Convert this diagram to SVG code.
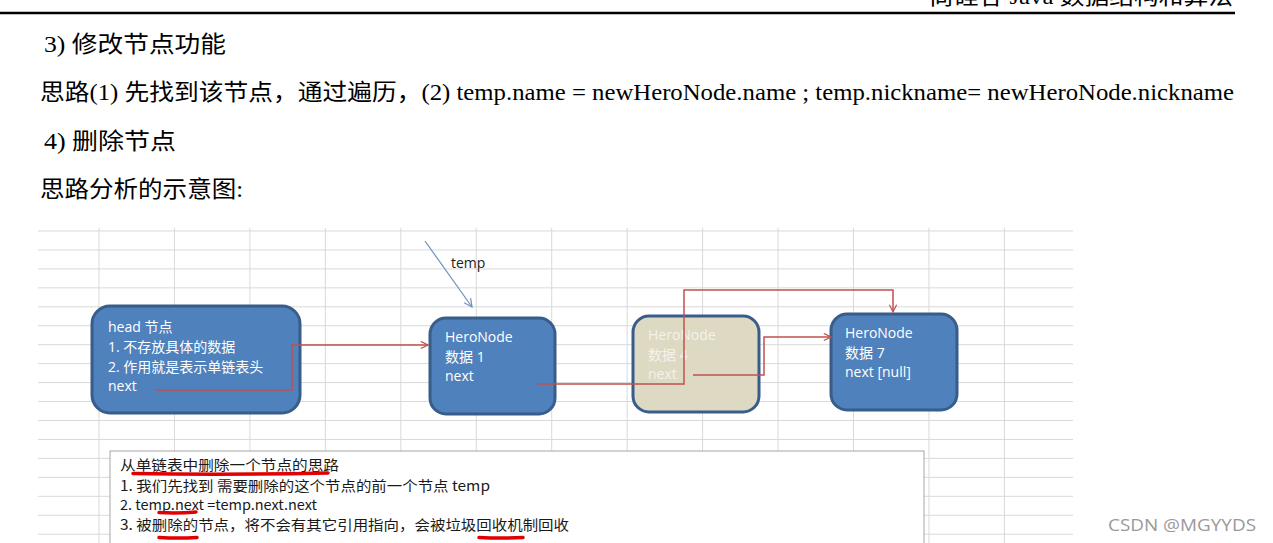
<svg xmlns="http://www.w3.org/2000/svg" width="1273" height="543" viewBox="0 0 1273 543">
<style>
.doc{font-family:"Liberation Serif","Noto Sans CJK SC",serif;fill:#000}
.grid line{stroke:#D9D9D9;stroke-width:1}
.node rect{stroke:#385D8A;stroke-width:3}
.blue{fill:#4F81BD}
.beige{fill:#DDD9C3}
.nt{font-family:"Open Sans","Noto Sans CJK SC",sans-serif;font-size:14px;fill:#FFFFFF}
.nt4{font-family:"Open Sans","Noto Sans CJK SC",sans-serif;font-size:14px;fill:#F4F2EA}
.red{fill:none;stroke:#C0504D;stroke-width:1.5}
.bt{font-family:"Noto Sans CJK SC",sans-serif;font-size:14px;fill:#1A1A1A}
.ul{stroke:#E00000;stroke-width:3.5;stroke-linecap:round;fill:none}
</style>
<defs>
<marker id="ar" viewBox="0 0 10 10" refX="9" refY="5" markerWidth="9" markerHeight="9" markerUnits="userSpaceOnUse" orient="auto">
<path d="M1,1 L9,5 L1,9" fill="none" stroke="#C0504D" stroke-width="1.3"/>
</marker>
<marker id="ab" viewBox="0 0 10 10" refX="9" refY="5" markerWidth="10" markerHeight="10" markerUnits="userSpaceOnUse" orient="auto">
<path d="M1,1 L9,5 L1,9" fill="none" stroke="#6F8FC0" stroke-width="1.2"/>
</marker>
</defs>
<rect width="1273" height="543" fill="#FFFFFF"/>
<text class="doc" x="1233" y="4" font-size="22" text-anchor="end" textLength="304" lengthAdjust="spacingAndGlyphs">尚硅谷 Java 数据结构和算法</text>
<line x1="0" y1="13" x2="1235" y2="13" stroke="#000" stroke-width="2.5"/>
<text class="doc" x="44" y="52" font-size="23" textLength="182" lengthAdjust="spacingAndGlyphs">3)  修改节点功能</text>
<text class="doc" x="40" y="100" font-size="23" textLength="1194" lengthAdjust="spacingAndGlyphs">思路(1)  先找到该节点，通过遍历，(2) temp.name = newHeroNode.name ; temp.nickname= newHeroNode.nickname</text>
<text class="doc" x="44" y="149" font-size="23" textLength="132" lengthAdjust="spacingAndGlyphs">4)  删除节点</text>
<text class="doc" x="40" y="197" font-size="23" textLength="203" lengthAdjust="spacingAndGlyphs">思路分析的示意图:</text>
<g class="grid">
<line x1="38" y1="231" x2="1073" y2="231"/><line x1="38" y1="249.95" x2="1073" y2="249.95"/><line x1="38" y1="268.9" x2="1073" y2="268.9"/><line x1="38" y1="287.85" x2="1073" y2="287.85"/><line x1="38" y1="306.8" x2="1073" y2="306.8"/><line x1="38" y1="325.75" x2="1073" y2="325.75"/><line x1="38" y1="344.7" x2="1073" y2="344.7"/><line x1="38" y1="363.65" x2="1073" y2="363.65"/><line x1="38" y1="382.6" x2="1073" y2="382.6"/><line x1="38" y1="401.55" x2="1073" y2="401.55"/><line x1="38" y1="420.5" x2="1073" y2="420.5"/><line x1="38" y1="439.45" x2="1073" y2="439.45"/><line x1="38" y1="458.4" x2="1073" y2="458.4"/><line x1="38" y1="477.35" x2="1073" y2="477.35"/><line x1="38" y1="496.3" x2="1073" y2="496.3"/><line x1="38" y1="515.25" x2="1073" y2="515.25"/><line x1="38" y1="534.2" x2="1073" y2="534.2"/>
<line x1="99" y1="228" x2="99" y2="543"/><line x1="174.45" y1="228" x2="174.45" y2="543"/><line x1="249.9" y1="228" x2="249.9" y2="543"/><line x1="325.35" y1="228" x2="325.35" y2="543"/><line x1="400.8" y1="228" x2="400.8" y2="543"/><line x1="476.25" y1="228" x2="476.25" y2="543"/><line x1="551.7" y1="228" x2="551.7" y2="543"/><line x1="627.15" y1="228" x2="627.15" y2="543"/><line x1="702.6" y1="228" x2="702.6" y2="543"/><line x1="778.05" y1="228" x2="778.05" y2="543"/><line x1="853.5" y1="228" x2="853.5" y2="543"/><line x1="928.95" y1="228" x2="928.95" y2="543"/><line x1="1004.4" y1="228" x2="1004.4" y2="543"/>
</g>
<g id="head" class="node">
<rect class="blue" x="92" y="306" width="208" height="107" rx="18"/>
<text class="nt" x="108" y="332">head 节点</text>
<text class="nt" x="108" y="352">1. 不存放具体的数据</text>
<text class="nt" x="108" y="372">2. 作用就是表示单链表头</text>
<text class="nt" x="108" y="391">next</text>
</g>
<g id="node1" class="node">
<rect class="blue" x="430" y="318" width="125" height="96" rx="16"/>
<text class="nt" x="445" y="342">HeroNode</text>
<text class="nt" x="445" y="362">数据 1</text>
<text class="nt" x="445" y="381">next</text>
</g>
<g id="node4" class="node">
<rect class="beige" x="633" y="316" width="126" height="96" rx="16"/>
<text class="nt4" x="648" y="340">HeroNode</text>
<text class="nt4" x="648" y="360">数据 4</text>
<text class="nt4" x="648" y="379">next</text>
</g>
<g id="node7" class="node">
<rect class="blue" x="831" y="314" width="126" height="96" rx="16"/>
<text class="nt" x="845" y="338">HeroNode</text>
<text class="nt" x="845" y="358">数据 7</text>
<text class="nt" x="845" y="377">next [null]</text>
</g>
<g id="temp">
<text x="451" y="268" font-family="Open Sans, sans-serif" font-size="14" fill="#222">temp</text>
</g>
<g id="connectors">
<line x1="425" y1="241" x2="472" y2="307" stroke="#6F8FC0" stroke-width="1.2" marker-end="url(#ab)"/>
<polyline class="red" points="155,390 292,390 292,345 428,345" marker-end="url(#ar)"/>
<polyline class="red" points="537,384 684,384 684,290 893,290 893,312" marker-end="url(#ar)"/>
<polyline class="red" points="693,375 764,375 764,337 831,337" marker-end="url(#ar)"/>
</g>
<g id="note">
<rect x="110" y="451" width="814" height="100" fill="#FFFFFF" stroke="#A6A6A6" stroke-width="1"/>
<text class="bt" x="120" y="470" textLength="219" lengthAdjust="spacingAndGlyphs">从单链表中删除一个节点的思路</text>
<text class="bt" x="120" y="491" textLength="370" lengthAdjust="spacingAndGlyphs">1.  我们先找到 需要删除的这个节点的前一个节点 temp</text>
<text class="bt" x="120" y="510" textLength="197" lengthAdjust="spacingAndGlyphs">2.  temp.next =temp.next.next</text>
<text class="bt" x="120" y="530" textLength="449" lengthAdjust="spacingAndGlyphs">3. 被删除的节点，将不会有其它引用指向，会被垃圾回收机制回收</text>
<path class="ul" d="M133,473.5 Q230,475 328,473"/>
<path class="ul" d="M159,512.5 Q178,513.5 196,512"/>
<path class="ul" d="M159,537.5 Q178,538.5 197,537.5"/>
<path class="ul" d="M479,537.5 Q501,538.5 523,537.5"/>
</g>
<text x="1108" y="531" font-family="Open Sans, sans-serif" font-size="17" fill="#9A9A9A" textLength="148" lengthAdjust="spacingAndGlyphs">CSDN @MGYYDS</text>
</svg>
